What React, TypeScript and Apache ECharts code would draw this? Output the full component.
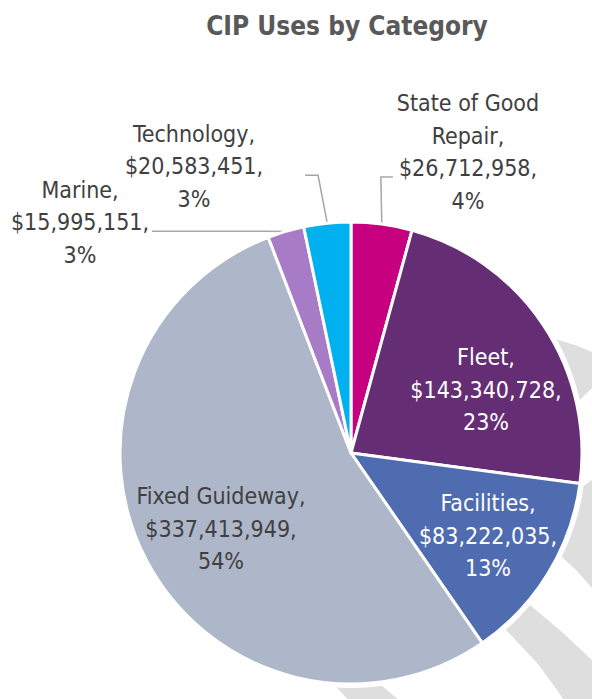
import React, { useEffect, useRef } from 'react';
import * as echarts from 'echarts';

// ---- data ----
const categories = ['State of Good Repair', 'Fleet', 'Facilities', 'Fixed Guideway', 'Marine', 'Technology'];
const values = [26712958, 143340728, 83222035, 337413949, 15995151, 20583451];
const sliceColors = ['#C6007E', '#652E74', '#506CB1', '#ADB7C9', '#A87BC6', '#00B0EF'];
const labelColors = ['#404040', '#FFFFFF', '#FFFFFF', '#404040', '#404040', '#404040'];
const outsideLabel = [true, false, false, false, true, true];
const TITLE = 'CIP Uses by Category';

// ---- layout / style ----
const FONT = "'Liberation Sans Narrow', 'Arial Narrow', 'DejaVu Sans Condensed', sans-serif";
const PIE_CENTER = [351, 453];
const PIE_R = 231;
// label text block: content centre x, text top y, padding [t, r, b, l], leader length2
const LABEL_BOX = [
  { cx: 468, top: 87, pad: [0, 0, 50, 4], len2: 12 },
  { cx: 486, top: 341, pad: [0, 0, 0, 0], len2: 0 },
  { cx: 488, top: 487, pad: [0, 0, 0, 0], len2: 0 },
  { cx: 221, top: 480, pad: [0, 0, 0, 0], len2: 0 },
  { cx: 80, top: 173.5, pad: [0, 3, 18, 0], len2: 114 },
  { cx: 194, top: 117.5, pad: [0, 42, 18, 0], len2: 13 },
];

const GREY = '#DEDEDE';
const BANDS: number[][][] = [
  [[520, 326], [555, 339], [575, 345], [592, 352], [605, 358], [605, 376], [592, 388], [572, 408], [540, 430]],
  [[540, 516], [582, 487], [605, 471], [605, 604], [592, 588], [577, 571], [562, 557], [540, 529]],
  [[482, 605], [505, 585], [530, 605], [562, 632], [592, 660], [612, 680], [612, 712], [572, 712], [557, 690], [538, 664], [508, 632]],
  [[315, 664], [355, 663], [420, 718], [365, 718]],
];

function wrapName(name: string): string {
  if (name.length > 16) {
    const i = name.lastIndexOf(' ');
    return name.slice(0, i) + '\n' + name.slice(i + 1);
  }
  return name;
}

export default function App() {
  const ref = useRef<HTMLDivElement>(null);
  useEffect(() => {
    if (!ref.current) return;
    const chart = echarts.init(ref.current, undefined, { renderer: 'svg' });
    const data = categories.map((name, i) => ({
      name,
      value: values[i],
      itemStyle: { color: sliceColors[i] },
      label: {
        position: outsideLabel[i] ? 'outside' : 'inside',
        color: labelColors[i],
        padding: LABEL_BOX[i].pad,
        backgroundColor: 'rgba(255,255,255,0)',
      },
      labelLine: { show: outsideLabel[i], length: 10, length2: LABEL_BOX[i].len2 },
    }));
    chart.setOption({
      animation: false,
      title: {
        text: TITLE,
        left: 342,
        top: 8,
        textAlign: 'center',
        textStyle: { fontFamily: FONT, fontSize: 26, fontWeight: 'bold', color: '#595959' },
      },
      graphic: [
        ...BANDS.map((pts) => ({
          type: 'polygon',
          silent: true,
          z: 0,
          shape: { points: pts },
          style: { fill: GREY },
        })),
        {
          type: 'circle',
          silent: true,
          z: 1,
          shape: { cx: PIE_CENTER[0], cy: PIE_CENTER[1], r: PIE_R + 4 },
          style: { fill: '#FFFFFF' },
        },
      ],
      series: [
        {
          type: 'pie',
          z: 2,
          center: PIE_CENTER,
          radius: PIE_R,
          startAngle: 90,
          clockwise: true,
          avoidLabelOverlap: false,
          minShowLabelAngle: 0,
          emphasis: { disabled: true },
          itemStyle: { borderColor: '#FFFFFF', borderWidth: 3 },
          label: {
            fontFamily: FONT,
            fontSize: 23,
            lineHeight: 32.5,
            formatter: (p: any) =>
              `${wrapName(p.name)},\n$${Number(p.value).toLocaleString('en-US')},\n${Math.round(p.percent)}%`,
          },
          labelLine: {
            smooth: false,
            minTurnAngle: 60,
            lineStyle: { color: '#A6A6A6', width: 1.5 },
          },
          labelLayout: (params: any) => {
            const b = LABEL_BOX[params.dataIndex];
            return {
              x: b.cx - b.pad[3] / 2 + b.pad[1] / 2,
              y: b.top,
              align: 'center',
              verticalAlign: 'top',
              hideOverlap: false,
            };
          },
          data,
        },
      ],
    });
    return () => chart.dispose();
  }, []);
  return <div ref={ref} style={{ position: 'absolute', left: 0, top: 0, width: 592, height: 699 }} />;
}
